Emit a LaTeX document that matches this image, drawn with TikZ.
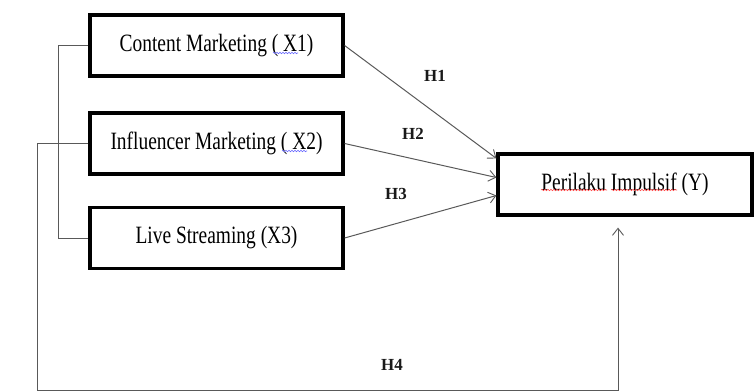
\documentclass[tikz,border=0pt]{standalone}
\usepackage{fontspec}
\setmainfont{Liberation Serif}
\usetikzlibrary{arrows.meta,calc,decorations.pathmorphing}
\tikzset{
  varbox/.style={draw=black, line width=3.2bp, fill=white, minimum width=253bp, minimum height=61bp, inner sep=0pt},
  conn/.style={draw=black!65, line width=1bp},
  arr/.style={conn, -{Straight Barb[length=7bp,width=11bp,line width=0.9bp]}},
  hlab/.style={font=\fontsize{17}{18}\selectfont\bfseries, text=black!90},
  squig/.style={decorate, decoration={snake, amplitude=0.7bp, segment length=3bp}, line width=0.6bp},
}
\newcommand{\boxtext}[1]{\scalebox{0.78}[1]{\fontsize{25}{28}\selectfont #1}}
\begin{document}
\begin{tikzpicture}[x=1bp,y=-1bp]
\useasboundingbox (0,0) rectangle (756,391);
\node[varbox] (X1) at (216.5,45.5) {\boxtext{Content Marketing ( X1)}};
\node[varbox] (X2) at (216.5,143.5) {\boxtext{Influencer Marketing ( X2)}};
\node[varbox] (X3) at (216.5,238) {\boxtext{Live Streaming (X3)}};
\node[varbox, minimum width=254bp] (Y) at (625,184.5) {\boxtext{Perilaku Impulsif (Y)}};
% spell-check underlines
\draw[squig, draw=blue!60] (273,53) -- (298,53);
\draw[squig, draw=blue!60] (282,151) -- (307,151);
\draw[squig, draw=red!70] (541,190) -- (607,190);
\draw[squig, draw=red!70] (611,190) -- (677,190);
% bracket
\draw[conn] (X1.west) -- ++(-30,0) |- (X3.west);
% arrows
\draw[arr] (X1.east) -- ($(Y.north west)+(0,6)$);
\draw[arr] (X2.east) -- ($(Y.west)+(0,-7)$);
\draw[arr] (X3.east) -- ($(Y.west)+(0,11)$);
\coordinate (c1) at (37,390);
\draw[arr] (X2.west) -| (c1) -| ($(Y.south)+(-7,11)$);
% labels
\node[hlab] (H1) at (435,76) {H1};
\node[hlab] (H2) at (413,134) {H2};
\node[hlab] (H3) at (396,194) {H3};
\node[hlab] (H4) at (392,365) {H4};
\end{tikzpicture}
\end{document}
